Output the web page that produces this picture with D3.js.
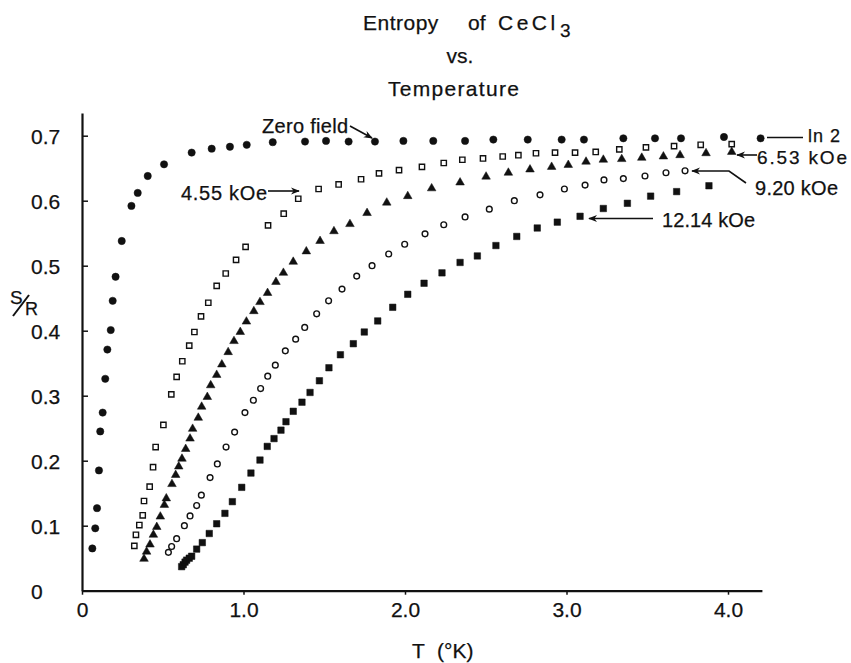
<!DOCTYPE html>
<html>
<head>
<meta charset="utf-8">
<script src="https://cdn.jsdelivr.net/npm/d3@7"></script>
<style>
  html, body { margin: 0; padding: 0; background: #fff; }
  svg { display: block; }
  text { font-family: "Liberation Sans", Arial, sans-serif; fill: #111; stroke: #111; stroke-width: 0.25px; }
</style>
</head>
<body>
<svg id="chart" width="851" height="663"></svg>
<script>
// ---- data (T in K, S/R) ----
const zeroField = [[0.064,0.065],[0.082,0.096],[0.093,0.127],[0.105,0.185],[0.113,0.245],[0.128,0.274],[0.144,0.326],[0.157,0.371],[0.178,0.401],[0.190,0.446],[0.208,0.483],[0.246,0.538],[0.306,0.592],[0.345,0.612],[0.407,0.638],[0.508,0.656],[0.679,0.674],[0.803,0.680],[0.916,0.683],[1.020,0.686],[1.181,0.690],[1.381,0.691],[1.511,0.692],[1.651,0.691],[1.814,0.691],[1.990,0.692],[2.175,0.692],[2.372,0.692],[2.547,0.694],[2.760,0.694],[2.970,0.694],[3.108,0.694],[3.352,0.696],[3.548,0.696],[3.709,0.696],[3.975,0.698],[4.202,0.696]];
const field455 = [[0.324,0.069],[0.334,0.086],[0.355,0.101],[0.376,0.116],[0.384,0.138],[0.419,0.160],[0.440,0.190],[0.456,0.221],[0.504,0.255],[0.553,0.302],[0.586,0.329],[0.621,0.353],[0.664,0.377],[0.696,0.398],[0.737,0.422],[0.782,0.443],[0.834,0.469],[0.890,0.488],[0.954,0.509],[1.013,0.529],[1.152,0.562],[1.249,0.580],[1.339,0.603],[1.465,0.618],[1.589,0.625],[1.728,0.633],[1.839,0.642],[1.963,0.647],[2.105,0.652],[2.240,0.658],[2.355,0.663],[2.483,0.665],[2.605,0.668],[2.702,0.670],[2.811,0.673],[2.929,0.674],[3.053,0.674],[3.181,0.675],[3.327,0.679],[3.492,0.682],[3.666,0.684],[3.831,0.686],[4.023,0.687]];
const field653 = [[0.384,0.049],[0.400,0.060],[0.421,0.071],[0.442,0.086],[0.463,0.098],[0.485,0.114],[0.510,0.132],[0.522,0.142],[0.557,0.164],[0.580,0.178],[0.599,0.191],[0.619,0.203],[0.642,0.218],[0.669,0.234],[0.685,0.249],[0.720,0.266],[0.741,0.283],[0.776,0.298],[0.797,0.316],[0.834,0.332],[0.866,0.348],[0.905,0.367],[0.941,0.384],[0.980,0.398],[1.018,0.414],[1.064,0.430],[1.102,0.444],[1.149,0.458],[1.201,0.475],[1.247,0.489],[1.308,0.506],[1.389,0.522],[1.474,0.538],[1.560,0.553],[1.659,0.564],[1.765,0.581],[1.887,0.597],[2.017,0.607],[2.165,0.619],[2.341,0.628],[2.502,0.637],[2.640,0.643],[2.774,0.648],[2.908,0.652],[3.011,0.655],[3.121,0.660],[3.228,0.663],[3.342,0.664],[3.466,0.666],[3.600,0.668],[3.703,0.670],[3.864,0.673],[4.023,0.675]];
const field920 = [[0.535,0.059],[0.555,0.068],[0.586,0.080],[0.634,0.100],[0.669,0.115],[0.710,0.131],[0.739,0.147],[0.793,0.174],[0.838,0.195],[0.892,0.221],[0.945,0.244],[1.009,0.274],[1.061,0.293],[1.106,0.311],[1.150,0.330],[1.197,0.347],[1.259,0.369],[1.323,0.387],[1.379,0.405],[1.453,0.426],[1.527,0.446],[1.610,0.464],[1.701,0.484],[1.796,0.500],[1.899,0.518],[1.998,0.533],[2.124,0.549],[2.240,0.563],[2.372,0.575],[2.522,0.587],[2.677,0.600],[2.836,0.609],[2.987,0.618],[3.115,0.624],[3.232,0.632],[3.352,0.634],[3.486,0.638],[3.616,0.643],[3.734,0.646]];
const field1214 = [[0.617,0.037],[0.627,0.040],[0.638,0.044],[0.648,0.047],[0.664,0.050],[0.679,0.053],[0.710,0.064],[0.745,0.074],[0.788,0.088],[0.834,0.103],[0.885,0.119],[0.931,0.137],[0.989,0.159],[1.046,0.181],[1.102,0.201],[1.147,0.222],[1.189,0.234],[1.232,0.247],[1.263,0.260],[1.308,0.276],[1.362,0.290],[1.412,0.305],[1.470,0.323],[1.529,0.343],[1.600,0.363],[1.680,0.380],[1.748,0.398],[1.831,0.415],[1.924,0.436],[2.017,0.456],[2.118,0.473],[2.229,0.489],[2.341,0.505],[2.448,0.515],[2.563,0.531],[2.692,0.545],[2.819,0.558],[2.943,0.567],[3.084,0.576],[3.228,0.588],[3.377,0.596],[3.521,0.607],[3.682,0.614],[3.882,0.623]];
const xTicks = [0, 1, 2, 3, 4];
const xTickLabels = ["0", "1.0", "2.0", "3.0", "4.0"];
const yTicks = [0, 0.1, 0.2, 0.3, 0.4, 0.5, 0.6, 0.7];
const yTickLabels = ["0", "0.1", "0.2", "0.3", "0.4", "0.5", "0.6", "0.7"];

// ---- layout ----
const svg = d3.select("#chart");
const INK = "#111";
const x = d3.scaleLinear().domain([0, 4.21]).range([82, 82 + 4.21 * 161.5]);
const y = d3.scaleLinear().domain([0, 0.735]).range([590.7, 590.7 - 0.735 * 650]);

// axes
const xAxis = d3.axisBottom(x).tickValues(xTicks)
  .tickFormat((d, i) => xTickLabels[i]).tickSize(4).tickSizeOuter(0);
const gx = svg.append("g").attr("transform", `translate(0,${y(0)})`).call(xAxis);
gx.select(".domain").attr("stroke", INK).attr("stroke-width", 2.2);
gx.selectAll(".tick line").attr("stroke", INK).attr("stroke-width", 1.5);
gx.selectAll(".tick text").attr("y", 26).attr("dy", 0)
  .style("font-size", "21px").attr("fill", INK)
  .style("font-family", '"Liberation Sans", Arial, sans-serif');

const yAxis = d3.axisLeft(y).tickValues(yTicks)
  .tickFormat((d, i) => yTickLabels[i]).tickSize(-6).tickSizeOuter(0);
const gy = svg.append("g").attr("transform", `translate(${x(0)},0)`).call(yAxis);
gy.select(".domain").attr("stroke", INK).attr("stroke-width", 2.2);
gy.selectAll(".tick line").attr("stroke", INK).attr("stroke-width", 1.5);
gy.selectAll(".tick text").attr("x", 31 - x(0)).attr("dy", "0.36em")
  .attr("text-anchor", "start")
  .style("font-size", "21px").attr("fill", INK)
  .style("font-family", '"Liberation Sans", Arial, sans-serif');

// ---- series ----
function draw(data, type, size, filled) {
  const sym = d3.symbol().type(type).size(size);
  svg.append("g").selectAll("path").data(data).enter().append("path")
    .attr("d", sym)
    .attr("transform", d => `translate(${x(d[0])},${y(d[1])})`)
    .attr("fill", filled ? INK : "#fff")
    .attr("stroke", INK)
    .attr("stroke-width", filled ? 0.5 : 1.4);
}
draw(zeroField, d3.symbolCircle, 42, true);
draw(field455, d3.symbolSquare, 28, false);
draw(field653, d3.symbolTriangle, 32, true);
draw(field920, d3.symbolCircle, 26, false);
draw(field1214, d3.symbolSquare, 42, true);

// ---- titles ----
const fs = 20;
function txt(str, xx, yy, opts = {}) {
  const t = svg.append("text").attr("x", xx).attr("y", yy)
    .style("font-size", (opts.size || fs) + "px")
    .attr("text-anchor", opts.anchor || "start").text(str);
  if (opts.ls) t.style("letter-spacing", opts.ls + "px");
  if (opts.len) t.attr("textLength", opts.len).attr("lengthAdjust", "spacing");
  return t;
}
txt("Entropy", 363, 30, { size: 21, ls: 0.5 });
txt("of", 468, 30, { size: 21 });
txt("CeCl", 498, 30, { size: 21, ls: 3.5 });
txt("3", 560, 37, { size: 19 });
txt("vs.", 460, 63, { anchor: "middle", size: 21 });
txt("Temperature", 388, 96, { size: 21, ls: 1.3 });
txt("T", 412, 658, { size: 21 });
txt("(°K)", 437, 658, { size: 21 });

// y-axis label S/R
txt("S", 10, 304, { size: 19 });
svg.append("line").attr("x1", 13).attr("y1", 316).attr("x2", 29).attr("y2", 295)
  .attr("stroke", INK).attr("stroke-width", 2);
txt("R", 25, 315, { size: 18 });

// ---- annotations ----
const defs = svg.append("defs");
defs.append("marker").attr("id", "ah").attr("viewBox", "0 0 10 10")
  .attr("refX", 9).attr("refY", 5).attr("markerWidth", 9).attr("markerHeight", 9)
  .attr("markerUnits", "userSpaceOnUse").attr("orient", "auto")
  .append("path").attr("d", "M0,1 L10,5 L0,9 L3,5 Z").attr("fill", INK);

function arrow(points, head = true) {
  const p = svg.append("path").attr("d", d3.line()(points))
    .attr("fill", "none").attr("stroke", INK).attr("stroke-width", 1.6);
  if (head) p.attr("marker-end", "url(#ah)");
}
txt("Zero field", 262, 133, { len: 86 });
arrow([[350, 126], [372, 138]]);
txt("4.55 kOe", 181, 200, { len: 86 });
arrow([[268, 191], [299, 191]]);
arrow([[767, 137.5], [803, 137.5]], false);
txt("ln 2", 808, 142, { size: 18, ls: 1 });
arrow([[757, 155], [737, 155]]);
txt("6.53 kOe", 757, 164, { size: 19, len: 90 });
arrow([[746, 183], [729, 171], [692, 171]]);
txt("9.20 kOe", 755, 195, { len: 83 });
arrow([[653, 218.5], [589, 218.5]]);
txt("12.14 kOe", 662, 227, { len: 93 });
</script>
</body>
</html>
